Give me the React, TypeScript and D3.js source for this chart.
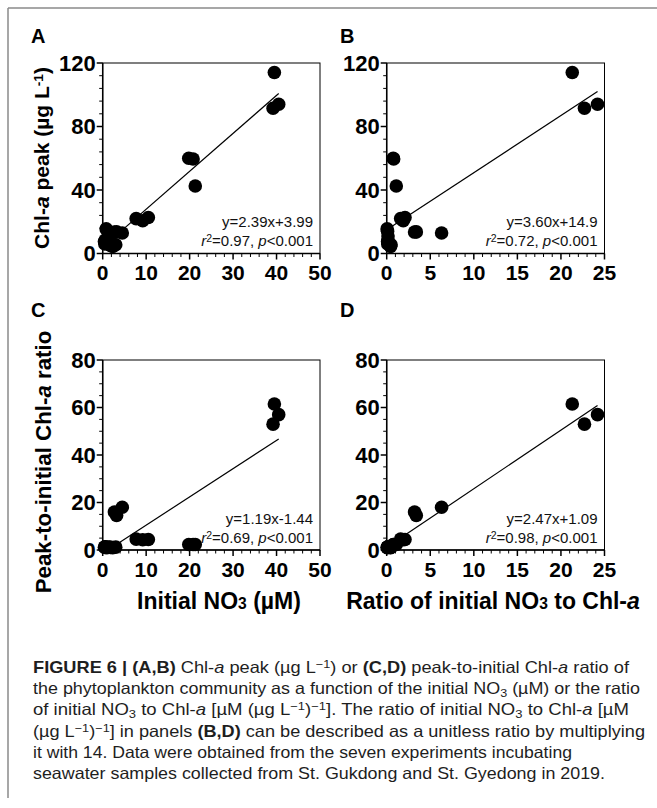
import React from 'react';
import * as d3 from 'd3';

// one entry per incubation sample (7 experiments x 3)
const nitrate = [39.5, 39.2, 40.5, 19.8, 20.8, 21.3, 7.7, 9.2, 10.5, 2.7, 3.2, 4.5, 0.4, 0.6, 0.5, 0.8, 1.2, 1.5, 1.8, 2.3, 3.0];
const ratioNC = [21.3, 22.7, 24.2, 0.75, 0.8, 1.1, 1.6, 1.9, 2.1, 3.2, 3.4, 6.3, 0.1, 0.15, 0.12, 0.05, 0.1, 0.15, 0.4, 0.45, 0.5];
const chlPeak = [114, 91.5, 94, 60, 59.5, 42.5, 22, 20.6, 22.7, 13.5, 13.6, 12.9, 7.5, 8.5, 6, 15.5, 14, 11, 5, 4.5, 5.5];
const peakRatio = [61.5, 53, 57, 2.3, 2.3, 2.3, 4.6, 4.3, 4.4, 16, 14.5, 18, 1.2, 1.3, 1.2, 1.0, 1.1, 1.2, 1.1, 1.0, 1.2];

const panelNames = ['A', 'B', 'C', 'D'];
const slopes = [2.39, 3.60, 1.19, 2.47];
const intercepts = [3.99, 14.9, -1.44, 1.09];
const eqLabels = ['y=2.39x+3.99', 'y=3.60x+14.9', 'y=1.19x-1.44', 'y=2.47x+1.09'];
const r2Labels = ['0.97', '0.72', '0.69', '0.98'];

const nitrateTicks = [0, 10, 20, 30, 40, 50];
const ratioTicks = [0, 5, 10, 15, 20, 25];
const peakTicks = [0, 40, 80, 120];
const peakRatioTicks = [0, 20, 40, 60, 80];

const FONT = "'Liberation Sans', Arial, sans-serif";

type Seg = [string, string?];
const captionLines: Seg[][] = [
  [['FIGURE 6 | (A,B)', 'b'], [' Chl-'], ['a', 'i'], [' peak (µg L'], ['−1', 'sup'], [') or '], ['(C,D)', 'b'], [' peak-to-initial Chl-'], ['a', 'i'], [' ratio of']],
  [['the phytoplankton community as a function of the initial NO'], ['3', 'sub'], [' (µM) or the ratio']],
  [['of initial NO'], ['3', 'sub'], [' to Chl-'], ['a', 'i'], [' [µM (µg L'], ['−1', 'sup'], [')'], ['−1', 'sup'], [']. The ratio of initial NO'], ['3', 'sub'], [' to Chl-'], ['a', 'i'], [' [µM']],
  [['(µg L'], ['−1', 'sup'], [')'], ['−1', 'sup'], ['] in panels '], ['(B,D)', 'b'], [' can be described as a unitless ratio by multiplying']],
  [['it with 14. Data were obtained from the seven experiments incubating']],
  [['seawater samples collected from St. Gukdong and St. Gyedong in 2019.']],
];
const captionEnds = [629, 640, 629, 645, 572, 605];

function segProps(kind?: string) {
  if (kind === 'b') return { fontWeight: 'bold' };
  if (kind === 'i') return { fontStyle: 'italic' };
  if (kind === 'sup') return { fontSize: '70%', baselineShift: '38%' };
  if (kind === 'sub') return { fontSize: '70%', baselineShift: '-22%' };
  return {};
}

function Panel({ idx }: { idx: number }) {
  const isRight = idx % 2 === 1;
  const isBottom = idx >= 2;
  const left = isRight ? 386.7 : 102.7;
  const right = isRight ? 604.5 : 320;
  const top = isBottom ? 360 : 63;
  const bottom = isBottom ? 550 : 253.5;

  const xs = isRight ? ratioNC : nitrate;
  const ys = isBottom ? peakRatio : chlPeak;
  const xTicks = isRight ? ratioTicks : nitrateTicks;
  const yTicks = isBottom ? peakRatioTicks : peakTicks;
  const xMinorStep = isRight ? 1 : 2;
  const yMinorStep = isBottom ? 5 : 8;

  const x = d3.scaleLinear().domain([0, xTicks[xTicks.length - 1]]).range([left, right]);
  const y = d3.scaleLinear().domain([0, yTicks[yTicks.length - 1]]).range([bottom, top]);

  const xMinor = d3.range(0, x.domain()[1] + 0.001, xMinorStep).filter(v => !xTicks.includes(v));
  const yMinor = d3.range(0, y.domain()[1] + 0.001, yMinorStep).filter(v => !yTicks.includes(v));

  const m = slopes[idx];
  const b = intercepts[idx];
  const x0 = Math.max(d3.min(xs) as number, -b / m);
  const x1 = d3.max(xs) as number;
  const line = d3.line<number>().x(d => x(d)).y(d => y(m * d + b));

  return (
    <g fontFamily={FONT}>
      <text x={isRight ? 340 : 31} y={isBottom ? 317 : 43} fontSize={20} fontWeight="bold">{panelNames[idx]}</text>
      <rect x={left} y={top} width={right - left} height={bottom - top} fill="none" stroke="#000" strokeWidth={1} />
      <line x1={left} x2={left} y1={top} y2={bottom} stroke="#000" strokeWidth={1.5} />
      <line x1={left} x2={right} y1={bottom} y2={bottom} stroke="#000" strokeWidth={1.5} />
      {xMinor.map(v => <line key={'xm' + v} x1={x(v)} x2={x(v)} y1={bottom} y2={bottom + 3.5} stroke="#000" strokeWidth={1} />)}
      {yMinor.map(v => <line key={'ym' + v} x1={left - 3.5} x2={left} y1={y(v)} y2={y(v)} stroke="#000" strokeWidth={1} />)}
      {xTicks.map(v => (
        <g key={'xt' + v}>
          <line x1={x(v)} x2={x(v)} y1={bottom} y2={bottom + 6} stroke="#000" strokeWidth={1.5} />
          <text x={x(v)} y={bottom + 26.5} textAnchor="middle" fontSize={21} fontWeight="bold">{v}</text>
        </g>
      ))}
      {yTicks.map(v => (
        <g key={'yt' + v}>
          <line x1={left - 6} x2={left} y1={y(v)} y2={y(v)} stroke="#000" strokeWidth={1.5} />
          <text x={left - 7} y={y(v)} dy="0.36em" textAnchor="end" fontSize={22} fontWeight="bold">{v}</text>
        </g>
      ))}
      <path d={line([x0, x1]) ?? ''} fill="none" stroke="#000" strokeWidth={1.2} />
      {xs.map((v, i) => <circle key={i} cx={x(v)} cy={y(ys[i])} r={6.8} fill="#000" />)}
      <text x={right - 7} y={bottom - 26.5} textAnchor="end" fontSize={15} fill="#111">{eqLabels[idx]}</text>
      <text x={right - 7} y={bottom - 7.5} textAnchor="end" fontSize={15} fill="#111">
        <tspan fontStyle="italic">r</tspan>
        <tspan fontSize="70%" baselineShift="40%">2</tspan>
        <tspan>{'=' + r2Labels[idx] + ', '}</tspan>
        <tspan fontStyle="italic">p</tspan>
        <tspan>{'<0.001'}</tspan>
      </text>
    </g>
  );
}

export default function App() {
  return (
    <svg width={657} height={808} style={{ position: 'absolute', left: 0, top: 0, background: '#fff' }}>
      <rect x={0} y={0} width={657} height={808} fill="#fff" />
      <line x1={8} x2={657} y1={8} y2={8} stroke="#8a8a8a" strokeWidth={1.5} />
      <line x1={8} x2={8} y1={8} y2={798} stroke="#8a8a8a" strokeWidth={1.5} />
      {[0, 1, 2, 3].map(i => <Panel key={i} idx={i} />)}

      <g fontFamily={FONT} fontWeight="bold" fontSize={21}>
        <text transform="translate(49,158) rotate(-90)" textAnchor="middle">
          <tspan>Chl-</tspan><tspan fontStyle="italic">a</tspan><tspan> peak (µg L</tspan>
          <tspan fontSize="65%" baselineShift="45%">-1</tspan><tspan>)</tspan>
        </text>
        <text transform="translate(51,462) rotate(-90)" textAnchor="middle" fontSize={22.3}>
          <tspan>Peak-to-initial Chl-</tspan><tspan fontStyle="italic">a</tspan><tspan> ratio</tspan>
        </text>
        <text x={219} y={609} textAnchor="middle" fontSize={23}>
          <tspan>Initial NO</tspan><tspan fontSize="68%">3</tspan><tspan>{'  (µM)'}</tspan>
        </text>
        <text x={493} y={609} textAnchor="middle" fontSize={23}>
          <tspan>Ratio of initial NO</tspan><tspan fontSize="68%">3</tspan><tspan> to Chl-</tspan><tspan fontStyle="italic">a</tspan>
        </text>
      </g>

      <g fontFamily={FONT} fontSize={16.5} fill="#1e1e1e">
        {captionLines.map((segs, li) => (
          <text key={li} x={33} y={673 + li * 21.2} textLength={captionEnds[li] - 33} lengthAdjust="spacingAndGlyphs">
            {segs.map((s, si) => <tspan key={si} {...segProps(s[1])}>{s[0]}</tspan>)}
          </text>
        ))}
      </g>
    </svg>
  );
}
